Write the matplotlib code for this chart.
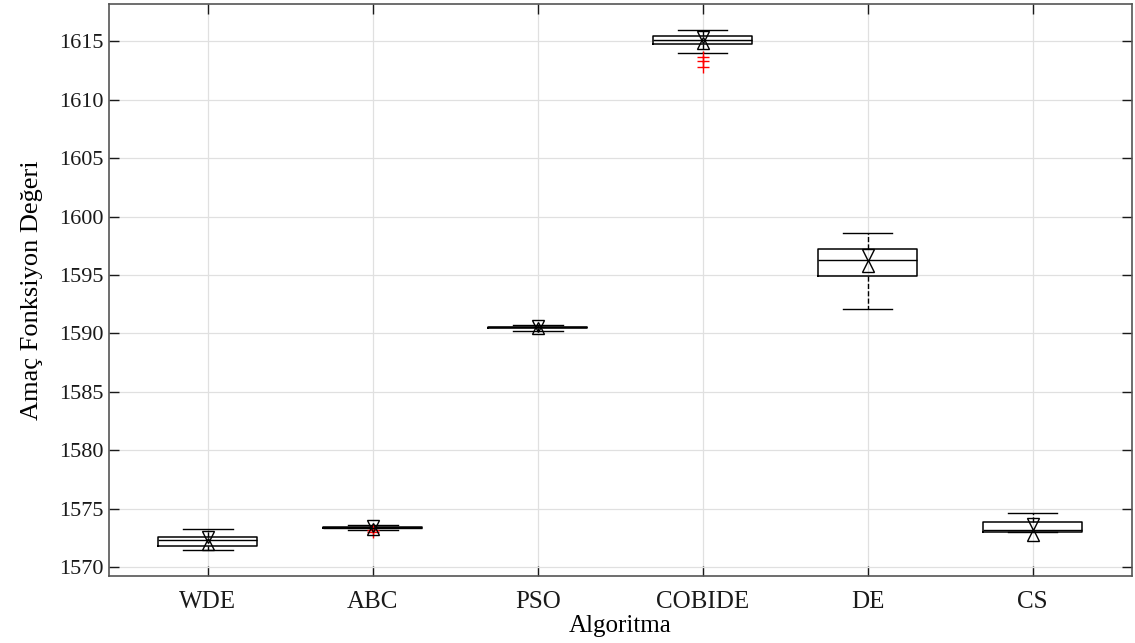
import matplotlib.pyplot as plt
import numpy as np

plt.rcParams['font.family'] = ['Liberation Serif', 'DejaVu Serif']

algoritmalar = ["WDE", "ABC", "PSO", "COBIDE", "DE", "CS"]
alt_biyik = [1571.47, 1573.17, 1590.18, 1613.97, 1592.08, 1573.00]
q1 = [1571.82, 1573.32, 1590.46, 1614.80, 1594.91, 1573.02]
medyan = [1572.30, 1573.38, 1590.52, 1615.11, 1596.25, 1573.20]
q3 = [1572.59, 1573.43, 1590.58, 1615.45, 1597.19, 1573.89]
ust_biyik = [1573.27, 1573.57, 1590.74, 1616.00, 1598.56, 1574.65]
centik = [0.30, 0.10, 0.10, 0.25, 0.45, 0.45]
aykiri = [[], [1573.02, 1573.20], [], [1613.63, 1613.30, 1612.83], [], []]

konum = np.arange(1, len(algoritmalar) + 1)

istatistik = []
for i in range(len(algoritmalar)):
    istatistik.append({
        "label": algoritmalar[i],
        "med": medyan[i],
        "q1": q1[i],
        "q3": q3[i],
        "whislo": alt_biyik[i],
        "whishi": ust_biyik[i],
        "fliers": aykiri[i],
    })

fig = plt.figure(figsize=(11.35, 6.43), dpi=100)
ax = fig.add_axes([0.096, 0.104, 0.901, 0.890])

ax.bxp(istatistik, positions=konum, widths=0.6, capwidths=0.3,
       boxprops=dict(color="black", linewidth=1.1),
       medianprops=dict(color="black", linewidth=1.0),
       whiskerprops=dict(color="black", linewidth=1.0, linestyle="--"),
       capprops=dict(color="black", linewidth=1.0),
       flierprops=dict(marker="+", markeredgecolor="red", markersize=8,
                       linestyle="none"))

# centik isaretleri (MATLAB notch marker gibi)
med = np.array(medyan)
c = np.array(centik)
ax.plot(konum, med + c, 'v', mfc='none', mec='black', ms=9, mew=1.0)
ax.plot(konum, med - c, '^', mfc='none', mec='black', ms=9, mew=1.0)

ax.set_xlim(0.4, 6.6)
ax.set_ylim(1569.23, 1618.2)
ax.set_yticks(np.arange(1570, 1616, 5))
ax.set_xticks(konum)
ax.set_xticklabels(algoritmalar)

ax.grid(True, color="#e0e0e0", linewidth=0.9)
ax.set_axisbelow(True)
ax.tick_params(direction="in", top=True, right=True, length=7,
               colors="#1a1a1a", width=1.0)
ax.tick_params(axis="y", labelsize=16)
ax.tick_params(axis="x", labelsize=18, pad=11)
for s in ax.spines.values():
    s.set_color("#555555")
    s.set_linewidth(1.2)

ax.set_xlabel("Algoritma", fontsize=18, labelpad=1)
ax.set_ylabel("Amaç Fonksiyon Değeri", fontsize=19, labelpad=12)

plt.savefig("out.png")
